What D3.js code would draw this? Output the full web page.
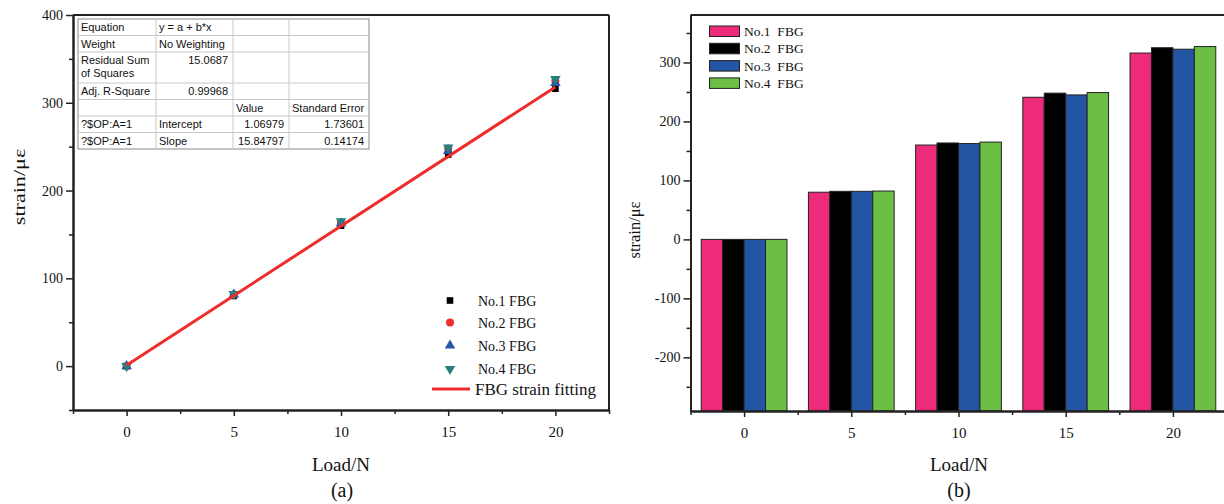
<!DOCTYPE html>
<html>
<head>
<meta charset="utf-8">
<script src="https://cdn.jsdelivr.net/npm/d3@7"></script>
<style>
body { margin: 0; background: #fff; }
svg text { font-family: "Liberation Serif", "Times New Roman", serif; fill: #111; }
.tbl text { font-family: "Liberation Sans", Arial, sans-serif; font-size: 11px; }
.axis path, .axis line { stroke: #222; }
</style>
</head>
<body>
<svg id="chart" width="1224" height="504"></svg>
<script>
// data
var loads = [0, 5, 10, 15, 20];
var seriesNames = ["No.1 FBG", "No.2 FBG", "No.3 FBG", "No.4 FBG"];
var fbg1 = [0, 80, 160, 241, 316];
var fbg2 = [0, 81.5, 163.5, 248, 325];
var fbg3 = [0, 81.5, 162.5, 245, 322.5];
var fbg4 = [0, 82, 165, 249, 327];
var fitIntercept = 1.06979, fitSlope = 15.84797;
var fitX = [0, 20];
var xTicks = [0, 5, 10, 15, 20];
var yTicksA = [0, 100, 200, 300, 400];
var yTicksB = [-200, -100, 0, 100, 200, 300];

var tableRows = [
  ["Equation", "y = a + b*x", "", ""],
  ["Weight", "No Weighting", "", ""],
  ["Residual Sum\nof Squares", "15.0687", "", ""],
  ["Adj. R-Square", "0.99968", "", ""],
  ["", "", "Value", "Standard Error"],
  ["?$OP:A=1", "Intercept", "1.06979", "1.73601"],
  ["?$OP:A=1", "Slope", "15.84797", "0.14174"]
];

var series = [fbg1, fbg2, fbg3, fbg4];
var colorsA = ["#000000", "#ee2c2c", "#2b54a7", "#277f7e"];
var symbolsA = [d3.symbolSquare, d3.symbolCircle, d3.symbolTriangle, d3.symbolTriangle];
var barColors = ["#ee2a7b", "#000000", "#2355a5", "#6cbe45"];

var svg = d3.select("#chart");
var plain = function(d) { return String(d); };  // hyphen minus like the original

// ---------- panel (a) ----------
var xa = d3.scaleLinear().domain([-2.5, 22.5]).range([73, 609]);
var ya = d3.scaleLinear().domain([-50, 400]).range([410, 15]);

var ga = svg.append("g");

// frame top/right
ga.append("line").attr("x1", 73).attr("x2", 609).attr("y1", 15).attr("y2", 15)
  .attr("stroke", "#222").attr("stroke-width", 2);
ga.append("line").attr("x1", 609).attr("x2", 609).attr("y1", 15).attr("y2", 410)
  .attr("stroke", "#222").attr("stroke-width", 2);

ga.append("g").attr("class", "axis xa").attr("transform", "translate(0,410)")
  .call(d3.axisBottom(xa).tickValues(xTicks).tickFormat(plain).tickSize(6).tickPadding(10).tickSizeOuter(0));
ga.append("g").attr("class", "axis").attr("transform", "translate(0,410)")
  .call(d3.axisBottom(xa).tickValues([-2.5, 2.5, 7.5, 12.5, 17.5, 22.5]).tickSize(4).tickFormat("").tickSizeOuter(0));
ga.append("g").attr("class", "axis ya").attr("transform", "translate(73,0)")
  .call(d3.axisLeft(ya).tickValues(yTicksA).tickFormat(plain).tickSize(7).tickPadding(3).tickSizeOuter(0));
ga.append("g").attr("class", "axis").attr("transform", "translate(73,0)")
  .call(d3.axisLeft(ya).tickValues([-50, 50, 150, 250, 350]).tickSize(4).tickFormat("").tickSizeOuter(0));

// fit line
var fitLine = d3.line().x(function(d) { return xa(d); }).y(function(d) { return ya(fitIntercept + fitSlope * d); });
// points
function symSize(i) { return i === 0 ? 44 : (i === 1 ? 50 : 48); }
series.forEach(function(s, i) {
  ga.append("g").selectAll("path").data(s).enter().append("path")
    .attr("d", d3.symbol().type(symbolsA[i]).size(symSize(i)))
    .attr("fill", colorsA[i])
    .attr("transform", function(d, j) {
      return "translate(" + xa(loads[j]) + "," + ya(d) + ")" + (i === 3 ? " rotate(180)" : "");
    });
});
ga.append("path").datum(fitX).attr("d", fitLine)
  .attr("fill", "none").attr("stroke", "#ee2c2c").attr("stroke-width", 3);

// legend (a)
var legA = ga.append("g");
seriesNames.forEach(function(n, i) {
  var yy = [300.5, 322.5, 345.5, 369][i];
  legA.append("path").attr("d", d3.symbol().type(symbolsA[i]).size(symSize(i))).attr("fill", colorsA[i])
    .attr("transform", "translate(450," + yy + ")" + (i === 3 ? " rotate(180)" : ""));
  legA.append("text").attr("x", 478).attr("y", yy + 5).style("font-size", "14px").text(n);
});
legA.append("line").attr("x1", 432).attr("x2", 470).attr("y1", 389).attr("y2", 389)
  .attr("stroke", "#ee2c2c").attr("stroke-width", 3);
legA.append("text").attr("x", 475).attr("y", 395).style("font-size", "17px").text("FBG strain fitting");

// table
var colX = [78, 156, 233, 289, 369];
var rowH = [16.5, 16.5, 31, 16.5, 16.5, 16.5, 16.5];
var rowY = [19];
rowH.forEach(function(h, i) { rowY.push(rowY[i] + h); });
var tbl = ga.append("g").attr("class", "tbl");
tbl.append("rect").attr("x", colX[0]).attr("y", rowY[0])
  .attr("width", colX[4] - colX[0]).attr("height", rowY[7] - rowY[0])
  .attr("fill", "#fff").attr("stroke", "#888").attr("stroke-width", 1);
colX.slice(1, 4).forEach(function(cx) {
  tbl.append("line").attr("x1", cx).attr("x2", cx).attr("y1", rowY[0]).attr("y2", rowY[7])
    .attr("stroke", "#c8c8c8");
});
rowY.slice(1, 7).forEach(function(ry) {
  tbl.append("line").attr("x1", colX[0]).attr("x2", colX[4]).attr("y1", ry).attr("y2", ry)
    .attr("stroke", "#c8c8c8");
});
tableRows.forEach(function(r, ri) {
  r.forEach(function(cell, ci) {
    if (!cell) return;
    var numeric = /^[0-9.]+$/.test(cell);
    cell.split("\n").forEach(function(ln, li) {
      var t = tbl.append("text").attr("y", rowY[ri] + 12 + li * 13).text(ln);
      if (numeric) t.attr("x", colX[ci + 1] - 5).attr("text-anchor", "end");
      else t.attr("x", colX[ci] + 3);
    });
  });
});

// titles (a)
ga.append("text").attr("transform", "translate(25,187) rotate(-90) scale(1.3,1)").attr("text-anchor", "middle")
  .style("font-size", "17px").text("strain/με");
ga.append("text").attr("x", 341).attr("y", 471).attr("text-anchor", "middle")
  .style("font-size", "19px").text("Load/N");
ga.append("text").attr("x", 342).attr("y", 497).attr("text-anchor", "middle")
  .style("font-size", "20px").text("(a)");

// ---------- panel (b) ----------
var yMinB = -291;
var xb = d3.scaleLinear().domain([-2.5, 22.5]).range([690.5, 1226.5]);
var yb = d3.scaleLinear().domain([yMinB, 380.5]).range([411, 15]);
var gb = svg.append("g");

// bars from bottom of axis up to value
series.forEach(function(s, i) {
  gb.append("g").selectAll("rect").data(s).enter().append("rect")
    .attr("x", function(d, j) { return xb(loads[j] - 2 + i); })
    .attr("width", xb(1) - xb(0))
    .attr("y", function(d) { return yb(d); })
    .attr("height", function(d) { return yb(yMinB) - yb(d); })
    .attr("fill", barColors[i])
    .attr("stroke", "#222").attr("stroke-width", 1);
});

gb.append("line").attr("x1", 690.5).attr("x2", 1224).attr("y1", 15).attr("y2", 15)
  .attr("stroke", "#222").attr("stroke-width", 2);
gb.append("g").attr("class", "axis xa").attr("transform", "translate(0,411)")
  .call(d3.axisBottom(xb).tickValues(xTicks).tickFormat(plain).tickSize(6).tickPadding(10).tickSizeOuter(0));
gb.append("g").attr("class", "axis").attr("transform", "translate(0,411)")
  .call(d3.axisBottom(xb).tickValues([-2.5, 2.5, 7.5, 12.5, 17.5]).tickSize(4).tickFormat("").tickSizeOuter(0));
gb.append("g").attr("class", "axis ya").attr("transform", "translate(690.5,0)")
  .call(d3.axisLeft(yb).tickValues(yTicksB).tickFormat(plain).tickSize(7).tickPadding(3).tickSizeOuter(0));
gb.append("g").attr("class", "axis").attr("transform", "translate(690.5,0)")
  .call(d3.axisLeft(yb).tickValues([-250, -150, -50, 50, 150, 250, 350]).tickSize(4).tickFormat("").tickSizeOuter(0));

svg.selectAll(".axis path").attr("stroke-width", 2);
svg.selectAll(".axis line").attr("stroke-width", 1.5);
svg.selectAll(".axis text").style("font-family", "Liberation Serif").attr("fill", "#111");
svg.selectAll(".xa text").style("font-size", "15px");
svg.selectAll(".ya text").style("font-size", "14px");

// legend (b)
var legNamesB = ["No.1  FBG", "No.2  FBG", "No.3  FBG", "No.4  FBG"];
legNamesB.forEach(function(n, i) {
  var yy = 26 + i * 17.3;
  gb.append("rect").attr("x", 709.5).attr("y", yy).attr("width", 30).attr("height", 10.5)
    .attr("fill", barColors[i]).attr("stroke", "#222").attr("stroke-width", 1);
  gb.append("text").attr("x", 744).attr("y", yy + 10).style("font-size", "13.5px")
    .style("white-space", "pre").attr("xml:space", "preserve").text(n);
});

gb.append("text").attr("transform", "translate(640,230) rotate(-90)").attr("text-anchor", "middle")
  .style("font-size", "16.5px").text("strain/με");
gb.append("text").attr("x", 959).attr("y", 471).attr("text-anchor", "middle")
  .style("font-size", "19px").text("Load/N");
gb.append("text").attr("x", 959).attr("y", 497).attr("text-anchor", "middle")
  .style("font-size", "20px").text("(b)");
</script>
</body>
</html>
